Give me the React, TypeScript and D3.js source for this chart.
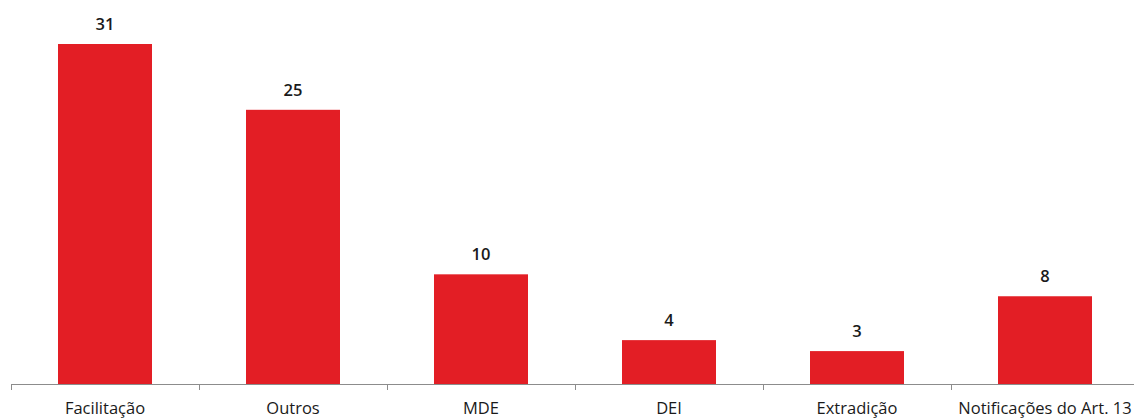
import React from "react";
import * as d3 from "d3";

const categories = ["Facilitação", "Outros", "MDE", "DEI", "Extradição", "Notificações do Art. 13"];
const values = [31, 25, 10, 4, 3, 8];

export default function App() {
  const width = 1134;
  const height = 419;
  const x = d3.scaleBand<string>().domain(categories).range([11, 11 + 188 * 6]).paddingInner(0.5).paddingOuter(0.25);
  const y = d3.scaleLinear().domain([0, 31]).range([384, 44]);
  const ticks = categories.map((_, i) => 11 + 188 * i);
  return (
    <svg width={width} height={height} style={{ position: "absolute", left: 0, top: 0, fontFamily: "'Open Sans', sans-serif" }}>
      {categories.map((c, i) => (
        <g key={c}>
          <rect x={x(c)} y={y(values[i])} width={x.bandwidth()} height={y(0) - y(values[i])} fill="#e31e25" />
          <text x={x(c)! + x.bandwidth() / 2} y={y(values[i]) - 14} textAnchor="middle" fontSize={16.5} fontWeight={600} fill="#1a1a1a">
            {values[i]}
          </text>
          <text x={x(c)! + x.bandwidth() / 2} y={414} textAnchor="middle" fontSize={16.5} fill="#1a1a1a">
            {c}
          </text>
        </g>
      ))}
      <line x1={11} x2={1139} y1={384.5} y2={384.5} stroke="#8c8c8c" strokeWidth={1} />
      {ticks.map((t) => (
        <line key={t} x1={t + 0.5} x2={t + 0.5} y1={384} y2={390} stroke="#8c8c8c" strokeWidth={1} />
      ))}
    </svg>
  );
}
